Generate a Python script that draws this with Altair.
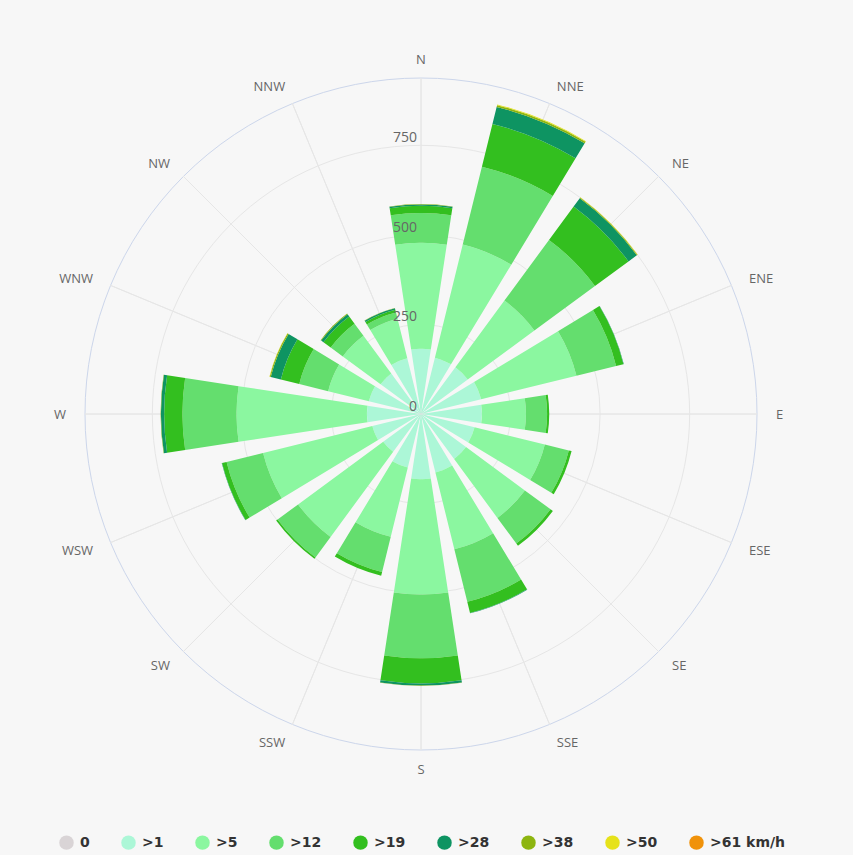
import math
import altair as alt
import pandas as pd

# ---------------- data ----------------
directions = ["N", "NNE", "NE", "ENE", "E", "ESE", "SE", "SSE",
              "S", "SSW", "SW", "WSW", "W", "WNW", "NW", "NNW"]
speed_classes = ["0", ">1", ">5", ">12", ">19", ">28", ">38", ">50", ">61 km/h"]
colors = ["#d9d4d6", "#acf7d7", "#8bf7a0", "#64de6e", "#33bf1f",
          "#0e9462", "#8db510", "#e6e21a", "#f0920a"]

calm   = [2, 2, 2, 2, 2, 2, 2, 2, 2, 2, 2, 2, 2, 2, 2, 2]
gt1    = [180, 160, 160, 171, 168, 152, 154, 166, 180, 152, 129, 138, 149, 148, 138, 158]
gt5    = [296, 325, 231, 274, 123, 202, 204, 221, 322, 199, 295, 314, 364, 117, 131, 114]
gt12   = [83, 224, 210, 114, 59, 69, 89, 151, 178, 101, 71, 105, 151, 83, 42, 18]
gt19   = [20, 123, 116, 21, 6, 8, 8, 32, 70, 11, 5, 13, 51, 53, 25, 8]
gt28   = [4, 49, 29, 1, 0, 0, 0, 1, 6, 0, 0, 1, 9, 29, 8, 4]
gt38   = [1, 5, 2, 0, 0, 0, 0, 0, 1, 0, 0, 0, 1, 3, 2, 1]
gt50   = [0, 2, 1, 0, 0, 0, 0, 0, 0, 0, 0, 0, 0, 1, 0, 0]
gt61   = [0, 0, 0, 0, 0, 0, 0, 0, 0, 0, 0, 0, 0, 0, 0, 0]
series = [calm, gt1, gt5, gt12, gt19, gt28, gt38, gt50, gt61]

grid_values = [250, 500, 750]
axis_labels = ["0", "250", "500", "750"]
axis_max = 938

# ---------------- tables ----------------
rows = []
for k, (name, vals) in enumerate(zip(speed_classes, series)):
    for i, d in enumerate(directions):
        rows.append({"dir": d, "i": i, "k": k, "speed": name, "value": vals[i]})
bars_df = pd.DataFrame(rows)

TWO_PI = 2 * math.pi
SLOT = TWO_PI / 16

theta_scale = alt.Scale(type="linear", domain=[0, TWO_PI], range=[0, TWO_PI])
radius_scale = alt.Scale(type="linear", domain=[0, axis_max], range=[0, 336], zero=True)

# grid circles
rings_df = pd.DataFrame({"r": grid_values})
rings = alt.Chart(rings_df).transform_calculate(
    t0="0", t1=str(TWO_PI)
).mark_arc(filled=False, stroke="#e6e6e6", strokeWidth=1).encode(
    theta=alt.Theta("t0:Q", scale=theta_scale),
    theta2="t1:Q",
    radius=alt.Radius("r:Q", scale=radius_scale),
)

outer_df = pd.DataFrame({"r": [axis_max]})
outer = alt.Chart(outer_df).transform_calculate(
    t0="0", t1=str(TWO_PI)
).mark_arc(filled=False, stroke="#ccd6eb", strokeWidth=1).encode(
    theta=alt.Theta("t0:Q", scale=theta_scale),
    theta2="t1:Q",
    radius=alt.Radius("r:Q", scale=radius_scale),
)

# spokes
spokes_df = pd.DataFrame({"i": list(range(16)), "dir": directions})
spokes = alt.Chart(spokes_df).transform_calculate(
    t0=f"datum.i * {SLOT}", t1=f"datum.i * {SLOT}", r=str(axis_max)
).mark_arc(filled=False, stroke="#e6e6e6", strokeWidth=1).encode(
    theta=alt.Theta("t0:Q", scale=theta_scale),
    theta2="t1:Q",
    radius=alt.Radius("r:Q", scale=radius_scale),
)

# stacked bars
HALF = 0.385
bars = alt.Chart(bars_df).transform_stack(
    stack="value", groupby=["dir"], as_=["r0", "r1"],
    sort=[alt.SortField("k", order="ascending")],
).transform_calculate(
    t0=f"(datum.i - {HALF}) * {SLOT}",
    t1=f"(datum.i + {HALF}) * {SLOT}",
).mark_arc(stroke=None).encode(
    theta=alt.Theta("t0:Q", scale=theta_scale),
    theta2="t1:Q",
    radius=alt.Radius("r1:Q", scale=radius_scale),
    radius2="r0:Q",
    color=alt.Color(
        "speed:N",
        scale=alt.Scale(domain=speed_classes, range=colors),
        sort=speed_classes,
        legend=alt.Legend(
            title=None, orient="none", direction="horizontal",
            legendX=59, legendY=835,
            symbolType="circle", symbolSize=210, symbolStrokeWidth=0,
            labelFont="DejaVu Sans", labelFontSize=14,
            labelFontWeight="bold", labelColor="#333333",
            labelOffset=6, columnPadding=31, columns=9,
        ),
    ),
)

# direction labels (Highcharts-style alignment)
LABEL_R = 991


def dir_layer(sel, align):
    return alt.Chart(spokes_df).transform_filter(sel).transform_calculate(
        t=f"datum.i * {SLOT}", r=str(LABEL_R)
    ).mark_text(font="Open Sans", fontSize=13, color="#666666",
                align=align, baseline="middle", dy=1).encode(
        theta=alt.Theta("t:Q", scale=theta_scale),
        radius=alt.Radius("r:Q", scale=radius_scale),
        text="dir:N",
    )


dir_right = dir_layer("datum.i > 0 && datum.i < 8", "left")
dir_left = dir_layer("datum.i > 8", "right")
dir_mid = dir_layer("datum.i == 0 || datum.i == 8", "center")

# radial axis labels
ax_df = pd.DataFrame({"label": axis_labels, "v": [0] + grid_values})
ax_labels = alt.Chart(ax_df).transform_calculate(
    t="0"
).mark_text(font="Open Sans", fontSize=14, color="#666666",
            align="right", baseline="middle", dx=-4, dy=-7).encode(
    theta=alt.Theta("t:Q", scale=theta_scale),
    radius=alt.Radius("v:Q", scale=radius_scale),
    text="label:N",
)

chart = alt.layer(rings, outer, spokes, bars, ax_labels,
                  dir_right, dir_left, dir_mid).properties(
    width=842, height=828,
    autosize=alt.AutoSizeParams(type="none"),
    padding={"left": 0, "top": 0, "right": 11, "bottom": 27},
    background="#f7f7f7",
).configure_view(stroke=None)

chart.save("out.html", embed_options={"renderer": "svg", "actions": False})
